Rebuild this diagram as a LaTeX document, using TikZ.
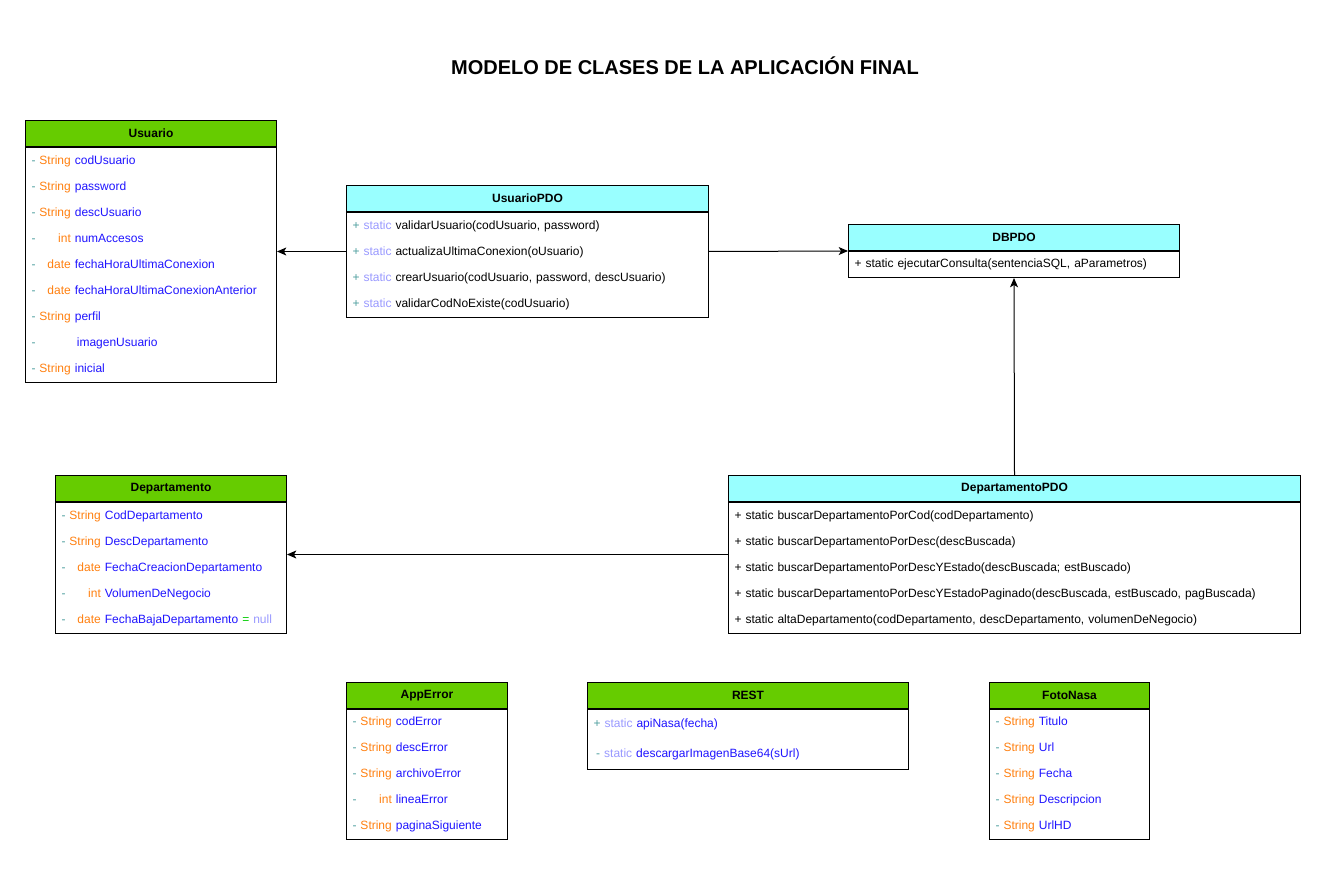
\documentclass[tikz,border=0pt]{standalone}
\usepackage{fontspec}
\setmainfont{Liberation Sans}
\usepackage{calc}
\usepackage{tikz}
\usetikzlibrary{arrows.meta,calc,positioning}
\definecolor{headgreen}{HTML}{66CC00}
\definecolor{headcyan}{HTML}{99FFFF}
\definecolor{signteal}{HTML}{4D9E9E}
\definecolor{typeorange}{HTML}{FF8010}
\definecolor{attrblue}{HTML}{1F14FF}
\definecolor{staticlav}{HTML}{9999FF}
\definecolor{eqgreen}{HTML}{00CC00}
\newcommand{\atrib}[2]{\textcolor{signteal}{-} \makebox[\widthof{String}][r]{\textcolor{typeorange}{#1}} \textcolor{attrblue}{#2}}
\newcommand{\oper}[2]{\textcolor{signteal}{+} \textcolor{staticlav}{static} #1#2}
\tikzset{
  classhead/.style={draw,line width=0.75pt,font=\bfseries\fontsize{9}{11}\selectfont,minimum height=26*0.75pt,inner sep=0pt,anchor=north west},
  greenhead/.style={classhead,fill=headgreen},
  cyanhead/.style={classhead,fill=headcyan},
  classbody/.style={draw,line width=0.75pt,fill=white,font=\fontsize{9}{19.5}\selectfont,align=left,inner xsep=4.5pt,inner ysep=0pt,anchor=north west},
  conector/.style={-{Stealth[length=7pt,width=6pt,inset=1.8pt]},line width=0.75pt}
}

\begin{document}
\begin{tikzpicture}[x=0.75pt,y=-0.75pt]
  \useasboundingbox (0,0) rectangle (1329,891);
  \node[font=\bfseries\fontsize{15}{18}\selectfont] (titulo) at (685,65.5) {MODELO DE CLASES DE LA APLICACIÓN FINAL};

  % Usuario
  \node[greenhead,minimum width=251*0.75pt] (usuh) at (25,120) {Usuario};
  \node[classbody,text width=239*0.75pt,minimum height=235*0.75pt] (usub) at (usuh.south west) {%
    \atrib{String}{codUsuario}\\
    \atrib{String}{password}\\
    \atrib{String}{descUsuario}\\
    \atrib{int}{numAccesos}\\
    \atrib{date}{fechaHoraUltimaConexion}\\
    \atrib{date}{fechaHoraUltimaConexionAnterior}\\
    \atrib{String}{perfil}\\
    \atrib{}{\hspace{1.5pt}imagenUsuario}\\
    \atrib{String}{inicial}};

  % UsuarioPDO
  \node[cyanhead,minimum width=362*0.75pt] (updh) at (346,185) {UsuarioPDO};
  \node[classbody,text width=350*0.75pt,minimum height=105*0.75pt] (updb) at (updh.south west) {%
    \oper{validarUsuario}{(codUsuario, password)}\\
    \oper{actualizaUltimaConexion}{(oUsuario)}\\
    \oper{crearUsuario}{(codUsuario, password, descUsuario)}\\
    \oper{validarCodNoExiste}{(codUsuario)}};

  % DBPDO
  \node[cyanhead,minimum width=331*0.75pt] (dbh) at (848,224) {DBPDO};
  \node[classbody,text width=319*0.75pt,minimum height=26*0.75pt] (dbb) at (dbh.south west) {%
    + static ejecutarConsulta(sentenciaSQL, aParametros)};

  % Departamento
  \node[greenhead,minimum width=231*0.75pt] (deph) at (55,475) {Departamento};
  \node[classbody,text width=219*0.75pt,minimum height=131*0.75pt] (depb) at (deph.south west) {%
    \atrib{String}{CodDepartamento}\\
    \atrib{String}{DescDepartamento}\\
    \atrib{date}{FechaCreacionDepartamento}\\
    \atrib{int}{VolumenDeNegocio}\\
    \atrib{date}{FechaBajaDepartamento} \textcolor{eqgreen}{=} \textcolor{staticlav}{null}};

  % DepartamentoPDO
  \node[cyanhead,minimum width=572*0.75pt] (dpdoh) at (728,475) {DepartamentoPDO};
  \node[classbody,text width=560*0.75pt,minimum height=131*0.75pt] (dpdob) at (dpdoh.south west) {%
    + static buscarDepartamentoPorCod(codDepartamento)\\
    + static buscarDepartamentoPorDesc(descBuscada)\\
    + static buscarDepartamentoPorDescYEstado(descBuscada; estBuscado)\\
    + static buscarDepartamentoPorDescYEstadoPaginado(descBuscada, estBuscado, pagBuscada)\\
    + static altaDepartamento(codDepartamento, descDepartamento, volumenDeNegocio)};

  % AppError
  \node[greenhead,minimum width=161*0.75pt] (errh) at (346,682) {AppError};
  \node[classbody,text width=149*0.75pt,minimum height=130*0.75pt] (errb) at (errh.south west) {%
    \atrib{String}{codError}\\
    \atrib{String}{descError}\\
    \atrib{String}{archivoError}\\
    \atrib{int}{lineaError}\\
    \atrib{String}{paginaSiguiente}};

  % REST
  \node[greenhead,minimum width=321*0.75pt] (resth) at (587,682) {REST};
  \node[classbody,text width=309*0.75pt,minimum height=60*0.75pt,font=\fontsize{9}{22.5}\selectfont] (restb) at (resth.south west) {%
    \oper{\textcolor{attrblue}{apiNasa(fecha)}}{}\\
    \hspace{2pt}\textcolor{signteal}{-} \textcolor{staticlav}{static} \textcolor{attrblue}{descargarImagenBase64(sUrl)}};

  % FotoNasa
  \node[greenhead,minimum width=160*0.75pt] (fotoh) at (989,682) {FotoNasa};
  \node[classbody,text width=148*0.75pt,minimum height=130*0.75pt] (fotob) at (fotoh.south west) {%
    \atrib{String}{Titulo}\\
    \atrib{String}{Url}\\
    \atrib{String}{Fecha}\\
    \atrib{String}{Descripcion}\\
    \atrib{String}{UrlHD}};

  % relaciones
  \coordinate (updW) at ($(updh.north west)!.5!(updb.south west)$);
  \coordinate (updE) at ($(updh.north east)!.5!(updb.south east)$);
  \coordinate (dbW) at ($(dbh.north west)!.5!(dbb.south west)$);
  \coordinate (dpdoW) at ($(dpdoh.north west)!.5!(dpdob.south west)$);
  \draw[conector] (updW) -- (updW -| usub.east);
  \draw[conector] (updE) -- (dbW);
  \draw[conector] (dpdoh.north) -- (dbb.south);
  \draw[conector] (dpdoW) -- (dpdoW -| depb.east);
\end{tikzpicture}
\end{document}
